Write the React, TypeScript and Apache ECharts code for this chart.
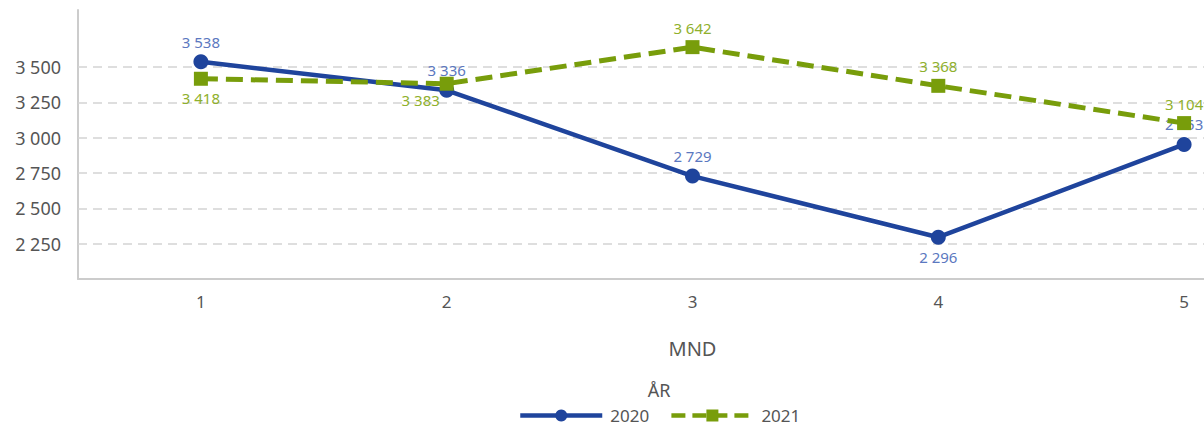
import React, { useEffect, useRef } from "react";
import * as echarts from "echarts";

const months = ["1", "2", "3", "4", "5"];
const values2020 = [3538, 3336, 2729, 2296, 2953];
const values2021 = [3418, 3383, 3642, 3368, 3104];
const labelPos2020 = ["top", "top", "top", "bottom", "top"];
const labelPos2021 = ["bottom", "bottom", "top", "top", "top"];
const yTicks = [2250, 2500, 2750, 3000, 3250, 3500];

const fmt = (v: number) => String(Math.round(v)).replace(/\B(?=(\d{3})+(?!\d))/g, " ");
const FONT = "'Noto Sans', 'Open Sans', sans-serif";

export default function App() {
  const ref = useRef<HTMLDivElement>(null);
  useEffect(() => {
    if (!ref.current) return;
    const chart = echarts.init(ref.current, undefined, { renderer: "svg" });
    const blue = "#1f449c";
    const green = "#789d0b";
    chart.setOption({
      animation: false,
      textStyle: { fontFamily: FONT },
      title: {
        text: "ÅR",
        left: 659,
        top: 381,
        padding: 0,
        textAlign: "center",
        textStyle: { fontSize: 18, fontWeight: "normal", color: "#555", fontFamily: FONT },
      },
      legend: {
        left: 518,
        top: 407,
        padding: 0,
        itemWidth: 82,
        itemHeight: 15,
        itemGap: 20,
        textStyle: {
          fontSize: 17,
          lineHeight: 15,
          color: "#555",
          fontFamily: FONT,
          padding: [0, 0, 0, 3],
        },
        data: [
          { name: "2020", lineStyle: { width: 4.5, color: blue } },
          { name: "2021", lineStyle: { width: 4.5, color: green, type: [14, 7] } },
        ],
      },
      grid: {
        left: 78,
        top: 10,
        width: 1229,
        height: 269,
        containLabel: false,
        outerBoundsMode: "none",
      },
      xAxis: {
        type: "category",
        data: months,
        boundaryGap: true,
        name: "MND",
        nameLocation: "middle",
        nameGap: 59,
        nameTextStyle: { fontSize: 20, color: "#555", fontFamily: FONT },
        axisLine: { lineStyle: { color: "#ccc", width: 2 } },
        axisTick: { alignWithLabel: true, length: 9, lineStyle: { color: "#ccc", width: 2 } },
        axisLabel: { fontSize: 17, color: "#555", margin: 14, fontFamily: FONT },
      },
      yAxis: {
        type: "value",
        min: 2000,
        max: 3905,
        interval: 250,
        axisLine: { show: true, lineStyle: { color: "#ccc", width: 2 } },
        axisTick: { show: false },
        splitLine: { show: false },
        axisLabel: {
          fontSize: 18,
          color: "#555",
          margin: 17,
          fontFamily: FONT,
          formatter: (v: number) => (yTicks.includes(v) ? fmt(v) : ""),
        },
      },
      series: [
        {
          name: "2020",
          type: "line",
          z: 2,
          data: values2020.map((v, i) => ({
            value: v,
            label: { position: labelPos2020[i] },
          })),
          symbol: "circle",
          symbolSize: 15,
          lineStyle: { color: blue, width: 4.5 },
          itemStyle: { color: blue },
          label: {
            show: true,
            fontSize: 15,
            color: "#5b78c0",
            distance: 5,
            fontFamily: FONT,
            formatter: (p: any) => fmt(p.value),
          },
          markLine: {
            silent: true,
            z: 1,
            symbol: "none",
            label: { show: false },
            lineStyle: { color: "#d4d4d4", type: [9, 6], width: 1.5 },
            data: yTicks.map((t) => ({ yAxis: t })),
          },
        },
        {
          name: "2021",
          type: "line",
          z: 3,
          data: values2021.map((v, i) => ({
            value: v,
            label:
              i === 1
                ? { position: "bottom", offset: [-26, -3] }
                : { position: labelPos2021[i] },
          })),
          symbol: "rect",
          symbolSize: 14,
          lineStyle: { color: green, width: 5, type: [17, 8] },
          itemStyle: { color: green },
          label: {
            show: true,
            fontSize: 15,
            color: "#8fb02c",
            distance: 5,
            fontFamily: FONT,
            formatter: (p: any) => fmt(p.value),
          },
        },
      ],
    });
    return () => chart.dispose();
  }, []);
  return (
    <div
      ref={ref}
      style={{ position: "fixed", left: 0, top: 0, width: 1204, height: 427, background: "#fff" }}
    />
  );
}
